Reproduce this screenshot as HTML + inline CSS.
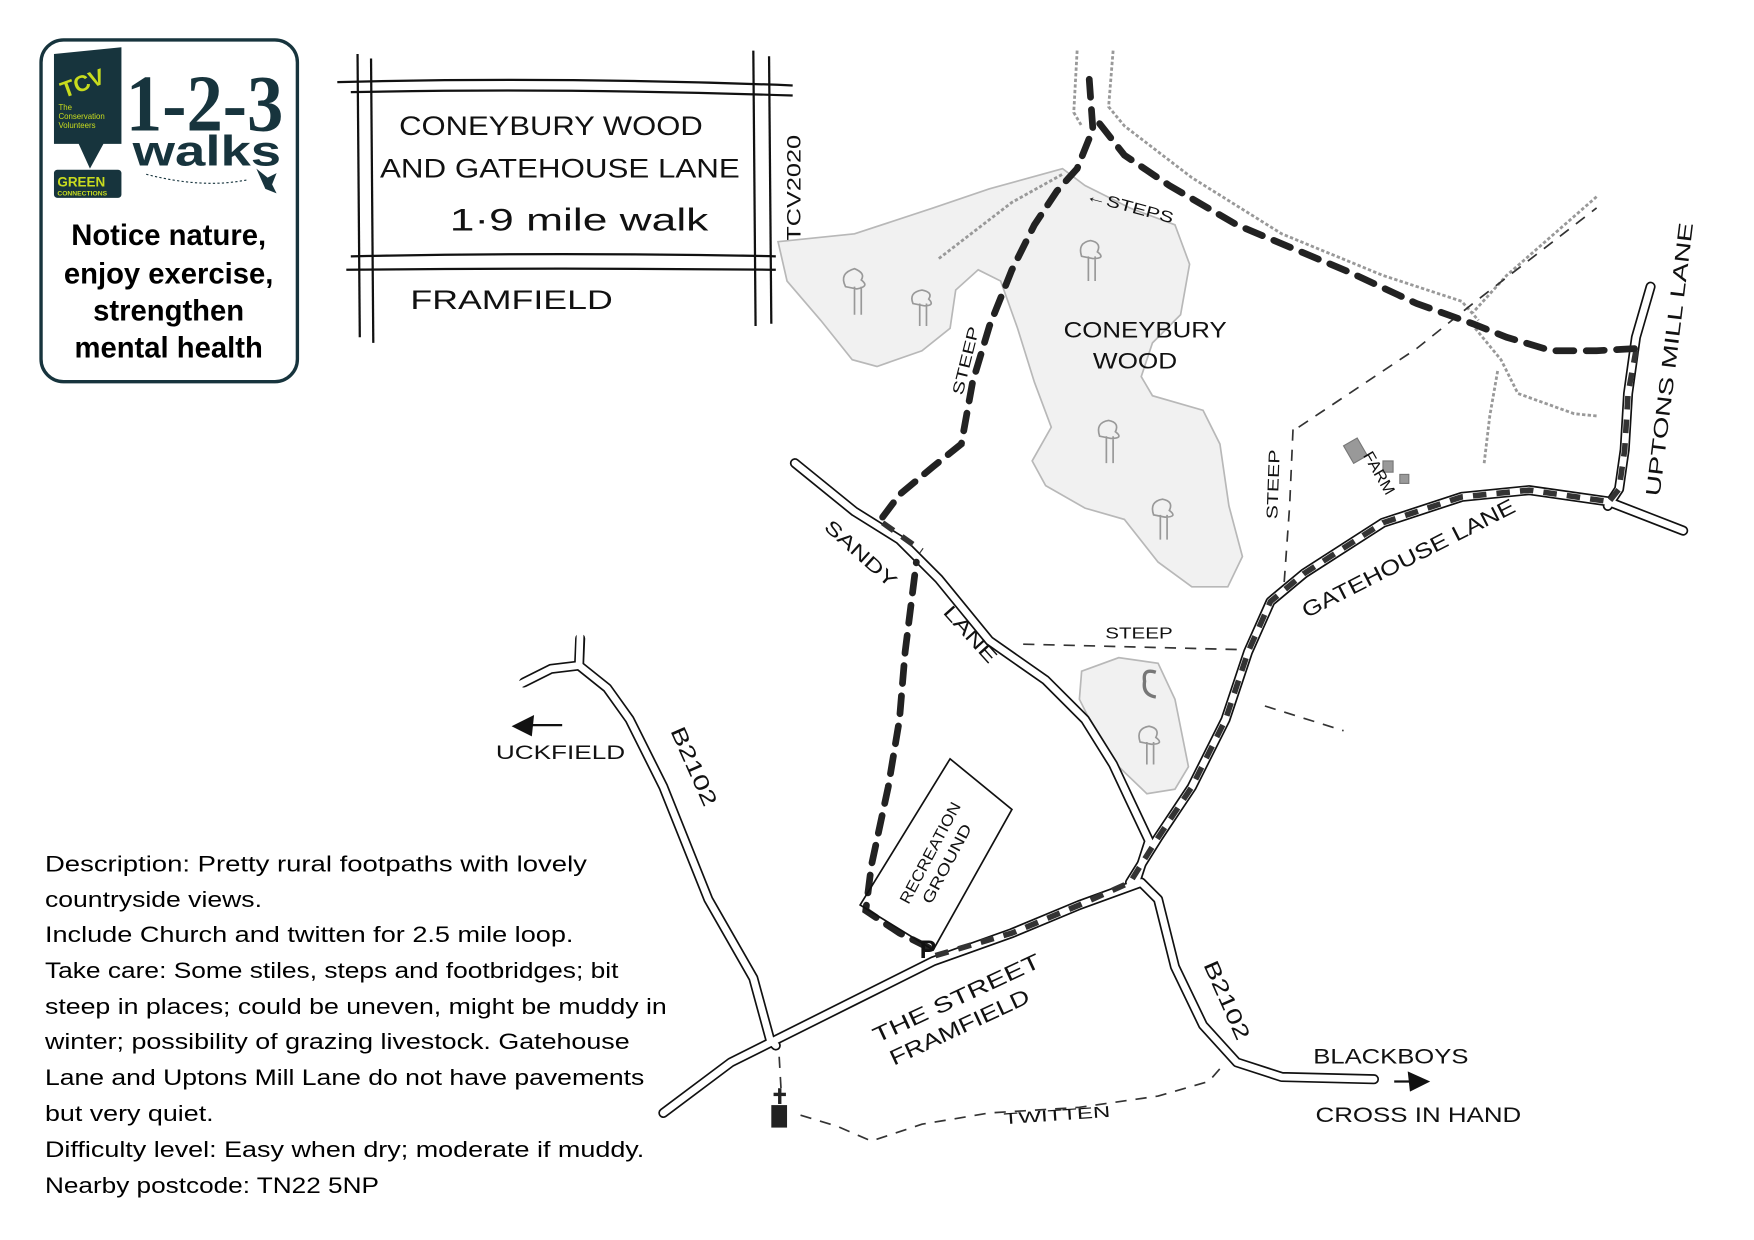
<!DOCTYPE html>
<html><head><meta charset="utf-8"><style>
html,body{margin:0;padding:0;background:#fff;}
svg{display:block;}
.h{font-family:"Liberation Sans",sans-serif;fill:#111;}
</style></head><body>
<svg width="1754" height="1240" viewBox="0 0 1560 1103" preserveAspectRatio="none" xmlns="http://www.w3.org/2000/svg">
<rect width="1560" height="1103" fill="#fff"/>

<!-- Logo box -->
<rect x="36.5" y="35.5" width="228" height="304" rx="20" fill="#fff" stroke="#17343d" stroke-width="3"/>
<path d="M48 48 L108 42 L108 128 L92 128 L80 150 L70 128 L48 128 Z" fill="#17343d"/>
<text x="52" y="80" font-family="Liberation Sans,sans-serif" font-size="20" font-weight="bold" fill="#c8dc1e" transform="rotate(-20 75 70)">TCV</text>
<text x="52" y="98" font-family="Liberation Sans,sans-serif" font-size="7" fill="#c8dc1e">The</text>
<text x="52" y="106" font-family="Liberation Sans,sans-serif" font-size="7" fill="#c8dc1e">Conservation</text>
<text x="52" y="114" font-family="Liberation Sans,sans-serif" font-size="7" fill="#c8dc1e">Volunteers</text>
<rect x="48" y="151" width="60" height="25" rx="3" fill="#17343d"/>
<text x="51" y="166" font-family="Liberation Sans,sans-serif" font-size="12" font-weight="bold" fill="#c8dc1e">GREEN</text>
<text x="51" y="174" font-family="Liberation Sans,sans-serif" font-size="6" font-weight="bold" fill="#c8dc1e">CONNECTIONS</text>
<text x="112" y="116" font-family="Liberation Serif,serif" font-size="72" font-weight="bold" fill="#17343d" textLength="140" lengthAdjust="spacingAndGlyphs">1-2-3</text>
<text x="118" y="147" font-family="Liberation Sans,sans-serif" font-size="38" font-weight="bold" fill="#17343d" textLength="132" lengthAdjust="spacingAndGlyphs">walks</text>
<path d="M130 155 Q180 168 220 160" fill="none" stroke="#17343d" stroke-width="1" stroke-dasharray="2 2"/>
<path d="M228 150 l10 8 l8 -4 l-4 10 l4 8 l-10 -4 z" fill="#17343d"/>
<g font-family="Liberation Sans,sans-serif" font-size="26" font-weight="bold" fill="#000" text-anchor="middle">
<text x="150" y="218">Notice nature,</text>
<text x="150" y="252">enjoy exercise,</text>
<text x="150" y="285">strengthen</text>
<text x="150" y="318">mental health</text>
</g>

<!-- Title frame -->
<g stroke="#111" stroke-width="2" fill="none">
<path d="M300 73 Q500 68 705 76"/><path d="M312 82 Q500 78 705 85"/>
<path d="M312 228 Q500 224 690 228"/><path d="M308 240 Q500 238 690 240"/>
<path d="M318 48 L320 300"/><path d="M330 52 L332 305"/>
<path d="M670 45 L672 290"/><path d="M684 50 L686 288"/>
</g>
<g class="h" font-size="24">
<text x="355" y="120" textLength="270" lengthAdjust="spacingAndGlyphs">CONEYBURY WOOD</text>
<text x="338" y="158" textLength="320" lengthAdjust="spacingAndGlyphs">AND GATEHOUSE LANE</text>
<text x="400" y="205" font-size="28" textLength="230" lengthAdjust="spacingAndGlyphs">1·9 mile walk</text>
<text x="365" y="275" textLength="180" lengthAdjust="spacingAndGlyphs">FRAMFIELD</text>
<text x="0" y="0" font-size="17" transform="translate(712 215) rotate(-90)" textLength="95" lengthAdjust="spacingAndGlyphs">TCV2020</text>
</g>

<!-- Woods -->
<g fill="#f1f1f1" stroke="#b8b8b8" stroke-width="1.5">
<path d="M692 215 L760 208 L830 185 L880 168 L945 150 L965 165 L1005 185 L1045 200 L1058 235 L1050 280 L1025 305 L1015 335 L1025 352 L1070 365 L1085 395 L1093 450 L1105 495 L1092 522 L1060 522 L1030 500 L1000 462 L965 452 L930 432 L918 410 L935 380 L920 340 L905 292 L890 250 L870 240 L850 258 L845 292 L820 312 L780 326 L758 320 L730 285 L700 250 Z"/>
<path d="M962 597 L995 585 L1030 590 L1045 622 L1057 682 L1045 702 L1020 706 L995 682 L975 652 L960 622 Z"/>
</g>
<!-- Trees -->
<g fill="none" stroke="#999" stroke-width="1.5">
<path d="M760 280 L760 255 M766 280 L766 255 M752 255 q-6 -12 8 -16 q10 4 6 10 q8 6 -4 8 z"/>
<path d="M818 290 L818 270 M824 290 L824 270 M812 270 q-4 -10 8 -12 q10 2 6 8 q6 6 -4 6 z"/>
<path d="M968 250 L968 228 M974 250 L974 228 M962 228 q-4 -12 8 -14 q10 2 6 10 q8 6 -4 6 z"/>
<path d="M984 412 L984 388 M990 412 L990 388 M978 388 q-4 -12 8 -14 q10 2 6 10 q8 6 -4 6 z"/>
<path d="M1032 480 L1032 458 M1038 480 L1038 458 M1026 458 q-4 -12 8 -14 q10 2 6 10 q8 6 -4 6 z"/>
<path d="M1020 680 L1020 660 M1026 680 L1026 660 M1014 660 q-4 -12 8 -14 q10 2 6 10 q8 6 -4 6 z"/>
<path d="M1028 598 q-12 -4 -10 8 q-2 12 10 14" stroke="#777" stroke-width="3"/>
</g>
<g fill="#999" stroke="#777"><rect x="1198" y="392" width="14" height="18" transform="rotate(-30 1205 400)"/><rect x="1230" y="410" width="9" height="10"/><rect x="1245" y="422" width="8" height="8"/></g>

<!-- Streams -->
<g fill="none" stroke="#999" stroke-width="2.5" stroke-dasharray="3 2">
<path d="M958 45 L955 100 L962 112"/>
<path d="M990 45 L986 95 L1000 112 L1060 158 L1140 208 L1230 245 L1300 268 L1315 285"/>
<path d="M1420 175 L1380 210 L1340 245 L1310 278"/>
<path d="M1312 292 L1335 320 L1350 350 L1400 368 L1420 370"/>
<path d="M1332 330 L1325 370 L1320 412"/>
<path d="M835 230 L900 180 L945 155"/>
</g>

<!-- Thin dashed paths -->
<g fill="none" stroke="#333" stroke-width="1.5" stroke-dasharray="10 8">
<path d="M910 573 L1110 578"/>
<path d="M1125 628 L1195 650"/>
<path d="M1155 380 L1260 310 L1310 270 L1420 185"/>
<path d="M1150 382 L1147 450 L1142 520"/>
<path d="M693 940 L695 975"/>
<path d="M712 992 L745 1002 L775 1015 L820 1000 L880 990 L960 985 L1030 975 L1075 962 L1090 945"/>
</g>

<!-- Roads -->
<g fill="none" stroke-linecap="round" stroke-linejoin="round">
<g stroke="#111" stroke-width="9">
<path d="M707 412 L760 455 L800 480 L835 515 L880 570 L930 605 L965 640 L990 680 L1005 712 L1022 748 L1010 785"/>
<path d="M1005 785 L1030 745 L1060 700 L1090 640 L1110 580 L1130 535 L1160 510 L1230 465 L1300 442 L1360 436 L1430 446 L1497 472"/>
<path d="M1468 255 L1455 300 L1448 350 L1445 400 L1440 435 L1430 450"/>
<path d="M590 990 L650 945 L690 925 L760 890 L830 855 L900 830 L960 805 L1015 785 L1030 800 L1045 860 L1070 912 L1100 945 L1140 958 L1222 960"/>
<path d="M516 568 L515 592 L540 612 L560 640 L590 700 L630 800 L670 870 L685 925 L690 930"/>
<path d="M515 592 L490 595 L466 607"/>
</g>
<g stroke="#fff" stroke-width="6">
<path d="M707 412 L760 455 L800 480 L835 515 L880 570 L930 605 L965 640 L990 680 L1005 712 L1022 748 L1010 785"/>
<path d="M1005 785 L1030 745 L1060 700 L1090 640 L1110 580 L1130 535 L1160 510 L1230 465 L1300 442 L1360 436 L1430 446 L1497 472"/>
<path d="M1468 255 L1455 300 L1448 350 L1445 400 L1440 435 L1430 450"/>
<path d="M590 990 L650 945 L690 925 L760 890 L830 855 L900 830 L960 805 L1015 785 L1030 800 L1045 860 L1070 912 L1100 945 L1140 958 L1222 960"/>
<path d="M516 562 L515 592 L540 612 L560 640 L590 700 L630 800 L670 870 L685 925 L690 930"/>
<path d="M515 592 L490 595 L462 609"/>
</g>
<g stroke="#333" stroke-width="5" stroke-dasharray="12 9" stroke-linecap="butt">
<path d="M832 850 L900 830 L960 805 L1005 785 L1030 745 L1060 700 L1090 640 L1110 580 L1130 535 L1160 510 L1230 465 L1300 442 L1360 436 L1430 446"/>
<path d="M1432 445 L1440 435 L1445 400 L1448 350 L1455 312"/>
<path d="M785 465 L820 490"/>
</g>
</g>
<!-- Main dashed route -->
<g fill="none" stroke="#222" stroke-width="6" stroke-dasharray="16 11" stroke-linecap="round">
<path d="M826 843 L800 830 L770 810 L775 770 L790 700 L800 640 L805 580 L815 500"/>
<path d="M785 460 L800 440 L830 415 L855 395 L865 340 L880 290 L900 240 L920 200 L940 170 L958 150 L972 115 L968 60"/>
<path d="M978 110 L1000 138 L1040 165 L1100 200 L1200 242 L1260 270 L1310 288 L1340 300 L1380 312 L1420 312 L1455 310"/>
</g>

<!-- recreation ground -->
<path d="M765 805 L845 675 L900 720 L830 845 Z" fill="none" stroke="#111" stroke-width="1.5"/>
<text x="818" y="852" class="h" font-size="22" font-weight="bold">P</text>
<!-- church -->
<g fill="#222"><rect x="686" y="983" width="14" height="20"/><rect x="692" y="968" width="3" height="14"/><rect x="688" y="972" width="11" height="3"/></g>
<!-- arrows -->
<path d="M500 645 L470 645" stroke="#111" stroke-width="2"/><path d="M455 646 L475 636 L473 655 Z" fill="#111"/>
<path d="M1240 962 L1255 962" stroke="#111" stroke-width="2"/><path d="M1272 962 L1252 953 L1254 971 Z" fill="#111"/>

<!-- labels -->
<g class="h" font-size="17">
<text transform="translate(732 470) rotate(42)" textLength="80" lengthAdjust="spacingAndGlyphs">SANDY</text>
<text transform="translate(838 545) rotate(48)" textLength="62" lengthAdjust="spacingAndGlyphs">LANE</text>
<text transform="translate(856 352) rotate(-76)" font-size="14" textLength="62" lengthAdjust="spacingAndGlyphs">STEEP</text>
<text transform="translate(965 178) rotate(15)" font-size="14" textLength="80" lengthAdjust="spacingAndGlyphs">←STEPS</text>
<text x="946" y="300" textLength="145" lengthAdjust="spacingAndGlyphs" font-size="20">CONEYBURY</text>
<text x="972" y="328" textLength="75" lengthAdjust="spacingAndGlyphs" font-size="20">WOOD</text>
<text transform="translate(1136 462) rotate(-88)" font-size="14" textLength="62" lengthAdjust="spacingAndGlyphs">STEEP</text>
<text transform="translate(1212 405) rotate(60)" font-size="14" textLength="42" lengthAdjust="spacingAndGlyphs">FARM</text>
<text transform="translate(1162 550) rotate(-27)" font-size="19" textLength="210" lengthAdjust="spacingAndGlyphs">GATEHOUSE LANE</text>
<text transform="translate(1476 442) rotate(-83)" font-size="18" textLength="245" lengthAdjust="spacingAndGlyphs">UPTONS MILL LANE</text>
<text x="983" y="568" font-size="14" textLength="60" lengthAdjust="spacingAndGlyphs">STEEP</text>
<text x="441" y="675" textLength="115" lengthAdjust="spacingAndGlyphs">UCKFIELD</text>
<text transform="translate(596 650) rotate(66)" font-size="19" textLength="75" lengthAdjust="spacingAndGlyphs">B2102</text>
<text transform="translate(808 805) rotate(-62)" font-size="14" textLength="100" lengthAdjust="spacingAndGlyphs">RECREATION</text>
<text transform="translate(828 805) rotate(-62)" font-size="14" textLength="78" lengthAdjust="spacingAndGlyphs">GROUND</text>
<text transform="translate(780 928) rotate(-25)" font-size="19" textLength="162" lengthAdjust="spacingAndGlyphs">THE STREET</text>
<text transform="translate(795 948) rotate(-25)" font-size="19" textLength="135" lengthAdjust="spacingAndGlyphs">FRAMFIELD</text>
<text transform="translate(1070 858) rotate(66)" font-size="19" textLength="75" lengthAdjust="spacingAndGlyphs">B2102</text>
<text x="1168" y="946" font-size="19" textLength="138" lengthAdjust="spacingAndGlyphs">BLACKBOYS</text>
<text x="1170" y="998" font-size="19" textLength="183" lengthAdjust="spacingAndGlyphs">CROSS IN HAND</text>
<text transform="translate(893 1000) rotate(-4)" font-size="14" textLength="95" lengthAdjust="spacingAndGlyphs">TWITTEN</text>
</g>

<!-- description -->
<g font-family="Liberation Sans,sans-serif" font-size="20" fill="#000">
<text x="40" y="775" textLength="482" lengthAdjust="spacingAndGlyphs">Description: Pretty rural footpaths with lovely</text>
<text x="40" y="807" textLength="193" lengthAdjust="spacingAndGlyphs">countryside views.</text>
<text x="40" y="838" textLength="470" lengthAdjust="spacingAndGlyphs">Include Church and twitten for 2.5 mile loop.</text>
<text x="40" y="870" textLength="510" lengthAdjust="spacingAndGlyphs">Take care: Some stiles, steps and footbridges; bit</text>
<text x="40" y="902" textLength="553" lengthAdjust="spacingAndGlyphs">steep in places; could be uneven, might be muddy in</text>
<text x="40" y="933" textLength="520" lengthAdjust="spacingAndGlyphs">winter; possibility of grazing livestock. Gatehouse</text>
<text x="40" y="965" textLength="533" lengthAdjust="spacingAndGlyphs">Lane and Uptons Mill Lane do not have pavements</text>
<text x="40" y="997" textLength="150" lengthAdjust="spacingAndGlyphs">but very quiet.</text>
<text x="40" y="1029" textLength="533" lengthAdjust="spacingAndGlyphs">Difficulty level: Easy when dry; moderate if muddy.</text>
<text x="40" y="1061" textLength="297" lengthAdjust="spacingAndGlyphs">Nearby postcode: TN22 5NP</text>
</g>
</svg>
</body></html>
